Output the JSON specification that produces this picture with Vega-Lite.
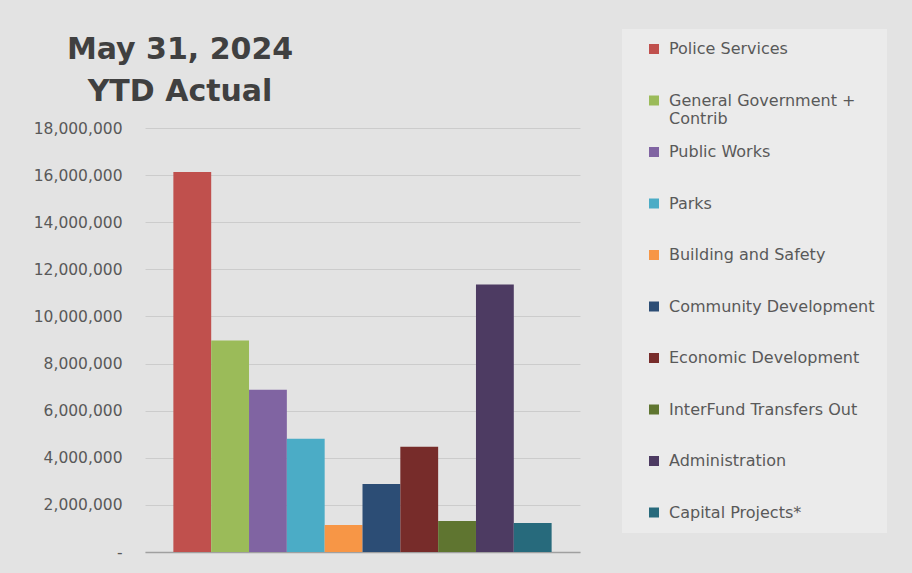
{
  "$schema": "https://vega.github.io/schema/vega-lite/v6.json",
  "width": 435,
  "height": 424,
  "autosize": {"type": "none"},
  "padding": {"left": 145, "top": 128, "right": 332, "bottom": 21},
  "background": "#e3e3e3",
  "title": {
    "text": ["May 31, 2024", "YTD Actual"],
    "anchor": "start",
    "frame": "group",
    "align": "center",
    "dx": 35,
    "dy": 100,
    "offset": 22,
    "font": "DejaVu Sans",
    "fontWeight": "bold",
    "fontSize": 30,
    "lineHeight": 42,
    "color": "#404040"
  },
  "data": {
    "values": [
      {"dept": "Police Services", "amount": 16130000},
      {"dept": "General Government + Contrib", "amount": 8980000},
      {"dept": "Public Works", "amount": 6890000},
      {"dept": "Parks", "amount": 4810000},
      {"dept": "Building and Safety", "amount": 1150000},
      {"dept": "Community Development", "amount": 2890000},
      {"dept": "Economic Development", "amount": 4470000},
      {"dept": "InterFund Transfers Out", "amount": 1320000},
      {"dept": "Administration", "amount": 11360000},
      {"dept": "Capital Projects*", "amount": 1230000}
    ]
  },
  "mark": {"type": "bar"},
  "encoding": {
    "x": {
      "field": "dept",
      "type": "nominal",
      "sort": null,
      "scale": {"paddingInner": 0, "paddingOuter": 0.75},
      "axis": {"title": null, "labels": false, "ticks": false, "domain": true, "domainColor": "#a0a0a0", "domainWidth": 1.5, "grid": false}
    },
    "y": {
      "field": "amount",
      "type": "quantitative",
      "scale": {"domain": [0, 18000000], "nice": false},
      "axis": {
        "title": null,
        "values": [0, 2000000, 4000000, 6000000, 8000000, 10000000, 12000000, 14000000, 16000000, 18000000],
        "labelExpr": "datum.value == 0 ? '-\u00a0\u00a0' : format(datum.value, ',')",
        "labelFont": "DejaVu Sans",
        "labelFontSize": 15.5,
        "labelColor": "#595959",
        "labelPadding": 23,
        "ticks": false,
        "domain": false,
        "grid": true,
        "gridColor": "#cccccc",
        "gridWidth": 1
      }
    },
    "color": {
      "field": "dept",
      "type": "nominal",
      "sort": null,
      "scale": {
        "domain": ["Police Services", "General Government + Contrib", "Public Works", "Parks", "Building and Safety", "Community Development", "Economic Development", "InterFund Transfers Out", "Administration", "Capital Projects*"],
        "range": ["#C0504D", "#9BBB59", "#8064A2", "#4BACC6", "#F79646", "#2C4D75", "#772C2A", "#5F7530", "#4D3B62", "#276A7C"]
      },
      "legend": {
        "title": null,
        "orient": "none",
        "legendX": 477,
        "legendY": -99,
        "direction": "vertical",
        "columns": 1,
        "gridAlign": "all",
        "fillColor": "#ebebeb",
        "strokeColor": null,
        "padding": 12,
        "symbolOffset": 12,
        "symbolType": "square",
        "symbolSize": 100,
        "symbolStrokeWidth": 0,
        "labelOffset": 7,
        "labelFont": "DejaVu Sans",
        "labelFontSize": 16,
        "labelColor": "#595959",
        "labelLimit": 400,
        "rowPadding": 17.5,
        "labelExpr": "datum.label == 'General Government + Contrib' ? ['General Government +', 'Contrib'] : datum.label"
      }
    }
  },
  "config": {
    "view": {"stroke": null}
  }
}
